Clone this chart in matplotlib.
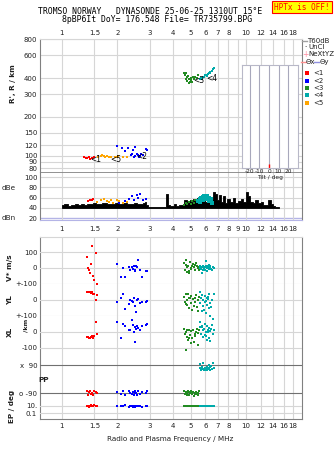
import matplotlib
matplotlib.use("Agg")
import matplotlib.pyplot as plt
from matplotlib.ticker import FixedLocator, NullLocator, FixedFormatter
from matplotlib.lines import Line2D

# ---- data ----
freq_ticks = [1, 1.5, 2, 3, 4, 5, 6, 7, 8, 9, 10, 12, 14, 16, 18]
freq_labels_mid = ["1", "1.5", "2", "3", "4", "5", "6", "7", "8", "9", "10", "12", "14", "16", "18"]
freq_labels = ["1", "1.5", "2", "3", "4", "5", "6", "7", "8", "", "10", "12", "14", "16", "18"]
height_ticks = [80, 90, 100, 120, 150, 200, 300, 400, 600, 800]

# virtual height traces
red_f = [1.32, 1.35, 1.37, 1.40, 1.42, 1.45, 1.49]
red_h = [97, 96, 96, 97, 95, 96, 98]
orange_f = [1.56, 1.62, 1.66, 1.70, 1.72, 1.76, 1.80, 1.85, 1.95, 2.00, 2.02, 2.15, 2.25]
orange_h = [98, 99, 101, 100, 98, 99, 98, 97, 97, 98, 99, 98, 98]
blue_f = [2.00, 2.12, 2.20, 2.28, 2.36, 2.40, 2.42, 2.45, 2.50, 2.50, 2.55, 2.60, 2.62, 2.65, 2.70, 2.75, 2.85, 2.90]
blue_h = [119, 114, 108, 114, 102, 103, 110, 97, 116, 100, 103, 102, 98, 100, 103, 101, 112, 110]
green_f = [4.6, 4.65, 4.7, 4.75, 4.8, 4.85, 4.9, 4.95, 5.0, 5.05, 5.1, 5.2, 5.3, 5.4, 5.5, 4.72, 4.88, 5.15]
green_h = [440, 420, 395, 405, 380, 415, 390, 372, 400, 385, 370, 395, 410, 400, 420, 435, 365, 405]
cyan_f = [5.6, 5.7, 5.8, 5.9, 6.0, 6.1, 6.2, 6.3, 6.4, 6.5, 6.6, 6.7, 5.75, 6.05, 6.35, 6.55]
cyan_h = [395, 400, 410, 405, 420, 415, 430, 440, 445, 450, 470, 480, 390, 425, 435, 455]

# amplitude profile (T60dB) and echo amplitudes
noise_f = [1.00, 1.05, 1.10, 1.15, 1.20, 1.25, 1.30, 1.35, 1.40, 1.45, 1.50, 1.55, 1.60, 1.70, 1.80,
           1.90, 2.00, 2.10, 2.20, 2.30, 2.40, 2.50, 2.60, 2.70, 2.80, 2.85, 2.90, 3.00, 3.20, 3.40,
           3.60, 3.72, 3.78, 3.90, 4.00, 4.10, 4.20, 4.40, 4.55, 4.70, 4.80, 4.90, 5.00, 5.10, 5.20,
           5.35, 5.50, 5.70, 5.90, 6.10, 6.30, 6.50, 6.70, 6.85, 7.00, 7.20, 7.40, 7.60, 7.80, 8.00,
           8.30, 8.60, 8.90, 9.20, 9.50, 9.80, 10.1, 10.4, 10.7, 11.0, 11.4, 11.8, 12.2, 12.6, 13.0,
           13.4, 13.8, 14.2, 14.6, 15.0]
noise_db = [45, 47, 44, 46, 48, 45, 47, 46, 48, 47, 50, 48, 47, 49, 47,
            48, 50, 48, 49, 47, 48, 50, 47, 48, 50, 52, 45, 41, 41, 41,
            42, 66, 45, 44, 43, 48, 44, 45, 46, 55, 50, 53, 56, 52, 57,
            54, 60, 58, 56, 52, 62, 58, 70, 66, 55, 64, 52, 62, 50, 58,
            52, 60, 50, 54, 58, 52, 70, 62, 52, 50, 55, 50, 52, 46, 45,
            55, 48, 44, 42, 42]
red_db_f = [1.38, 1.42, 1.45, 1.48]
red_db = [54, 56, 55, 57]
orange_db_f = [1.55, 1.62, 1.70, 1.75, 1.80, 1.85, 1.90, 2.00, 2.05, 2.15, 2.25]
orange_db = [52, 55, 57, 54, 52, 56, 50, 55, 53, 50, 51]
blue_db_f = [2.05, 2.2, 2.3, 2.4, 2.45, 2.55, 2.6, 2.65, 2.75, 2.85]
blue_db = [50, 53, 58, 62, 55, 64, 60, 67, 56, 58]
green_db_f = [4.6, 4.7, 4.8, 4.9, 5.0, 5.1, 5.2, 5.3, 5.4]
green_db = [45, 50, 48, 52, 47, 53, 50, 55, 52]
cyan_db_f = [5.5, 5.6, 5.7, 5.8, 5.9, 6.0, 6.1, 6.2, 6.3, 6.4, 6.5, 5.65, 5.85, 6.05, 6.25, 6.45]
cyan_db = [54, 58, 60, 61, 62, 60, 62, 58, 60, 55, 50, 52, 56, 57, 54, 58]

# lower panel: V*, YL, XL, PP, EP per echo
red2_f = [1.36, 1.38, 1.40, 1.42, 1.44, 1.45, 1.47, 1.50, 1.53, 1.55]
red2_v = [67, -2, -12, -29, 25, 137, -48, -75, 92, -102]
red2_yl = [52, 50, 48, 50, 45, 48, 40, 40, 0, 30]
red2_xl = [-30, -33, -35, -40, -30, -25, -35, -28, 65, -12]
red2_pp = [-80, -100, -85, -75, -95, -88, -105, -78, -82, -92]
red2_ep = [10, 12, 6, 10, 18, 8, 10, 14, 10, 9]

blue2_f = [1.98, 2.10, 2.15, 2.20, 2.30, 2.35, 2.40, 2.42, 2.45, 2.48, 2.50, 2.52, 2.55, 2.60, 2.65, 2.72, 2.85, 2.90]
blue2_v = [27, -55, 2, -55, 5, -10, 8, -5, 10, -15, -20, 10, 5, 50, -10, -55, -18, -18]
blue2_yl = [-12, 15, 35, -55, -25, 0, -5, -10, 10, -40, -40, -75, -2, 5, -20, -10, -15, -8]
blue2_xl = [65, -35, 50, 40, 15, 15, 75, 45, 0, 30, -60, 20, 35, 25, 10, 35, 45, 50]
blue2_pp = [-85, -95, -80, -100, -75, -90, -95, -85, -105, -80, -92, -88, -100, -78, -95, -85, -90, -80]
blue2_ep = [10, 8, 10, 14, 6, 10, 12, 5, 9, 10, 4, 10, 8, 12, 10, 6, 10, 11]

green2_f = [4.6, 4.65, 4.7, 4.75, 4.8, 4.85, 4.9, 4.95, 5.0, 5.05, 5.1, 5.15, 5.2, 5.3, 5.35, 5.4, 5.45, 5.5, 5.55, 4.72, 4.88, 5.25]
green2_v = [30, -10, 20, -25, 5, 15, -20, 40, 0, -5, 10, 25, 5, -15, 30, 10, 5, 0, -10, 50, -30, 20]
green2_yl = [20, -10, 35, -30, 0, 40, -50, 10, -20, 25, -60, 5, -35, 15, 30, -45, -70, 0, 20, -25, 10, -15]
green2_xl = [20, -10, 0, 15, -30, -50, 10, -20, -70, 5, -40, 15, -60, -25, 0, 20, -80, -5, 10, -110, -35, -15]
green2_pp = [-80, -95, -85, -100, -90, -75, -105, -88, -92, -80, -98, -85, -110, -90, -82, -95, -100, -88, -78, -92, -86, -96]
green2_ep = [10, 9, 10, 12, 10, 8, 10, 11, 10, 9, 10, 12, 10, 8, 10, 10, 11, 9, 10, 10, 12, 10]

cyan2_f = [5.6, 5.65, 5.7, 5.75, 5.8, 5.85, 5.9, 5.95, 6.0, 6.05, 6.1, 6.15, 6.2, 6.25, 6.3, 6.35, 6.4, 6.5, 6.6, 6.7, 5.78, 6.02, 6.22, 6.45]
cyan2_v = [10, 0, -5, 5, -10, 15, 0, 5, -15, 10, 0, -20, 5, 20, -5, 0, 10, -10, 5, 0, -30, 45, 10, -5]
cyan2_yl = [50, -20, 10, 30, -40, 0, -60, 25, -10, -80, 15, -30, 5, -50, 35, -100, -20, 0, -120, 40, -70, -5, 20, -45]
cyan2_xl = [60, 30, -10, 40, 10, -30, 20, 50, -20, 0, -50, 35, 15, -40, 25, 5, -55, 45, -15, 10, 30, -25, 0, 20]
cyan2_pp = [95, 70, 60, 75, 65, 105, 55, 70, 68, 62, 80, 58, 72, 66, 90, 60, 74, 64, 100, 70, 62, 55, 68, 85]
cyan2_ep = [10, 9, 10, 11, 10, 10, 8, 10, 12, 10, 9, 10, 10, 11, 10, 9, 10, 10, 8, 10, 12, 10, 9, 10]

tilt = [0]

RED, BLUE, GREEN, CYAN, ORANGE = "#ff0000", "#0000ff", "#228b22", "#00aaaa", "#ffa500"
GRID = "#d6d6d6"
FRAME = "#808080"
LAV = "#b4b4e6"

W, H = 335, 451
fig = plt.figure(figsize=(W / 100, H / 100), dpi=100)


def box(x0, y0, x1, y1):
    # pixel box -> figure fraction
    return [x0 / W, 1 - y1 / H, (x1 - x0) / W, (y1 - y0) / H]


def freq_axis(ax, labels):
    ax.set_xscale("log")
    ax.set_xlim(0.76, 20.1)
    ax.xaxis.set_major_locator(FixedLocator(freq_ticks))
    ax.xaxis.set_minor_locator(NullLocator())
    ax.xaxis.set_major_formatter(FixedFormatter(labels))


def dots(ax, f, v, c, s=3.2):
    ax.scatter(f, v, s=s, marker="s", c=c, linewidths=0, clip_on=False, zorder=3)


# ---- height panel ----
axh = fig.add_axes(box(40, 39, 302, 172))
freq_axis(axh, freq_labels)
axh.set_yscale("log")
axh.set_ylim(74.7, 803)
axh.yaxis.set_major_locator(FixedLocator(height_ticks))
axh.yaxis.set_minor_locator(NullLocator())
axh.yaxis.set_major_formatter(FixedFormatter([str(t) for t in height_ticks]))
axh.grid(True, color=GRID, lw=0.8)
axh.set_axisbelow(True)
axh.xaxis.tick_top()
axh.tick_params(length=0, labelsize=5, pad=2, colors="#202020")
for s in ["left", "right"]:
    axh.spines[s].set_color(FRAME)
axh.spines["top"].set_color(GRID)
axh.spines["bottom"].set_color(FRAME)
axh.spines["bottom"].set_linewidth(0.6)

dots(axh, red_f, red_h, RED)
dots(axh, orange_f, orange_h, ORANGE)
dots(axh, blue_f, blue_h, BLUE)
dots(axh, green_f, green_h, GREEN)
dots(axh, cyan_f, cyan_h, CYAN)
for txt, fx, hy in [("<1", 1.42, 93), ("<5", 1.84, 93), ("<2", 2.52, 99), ("<3", 5.15, 385), ("<4", 6.1, 395)]:
    axh.text(fx, hy, txt, fontsize=5.5, va="center", ha="left", color="black", zorder=4)

# ---- amplitude panel ----
axd = fig.add_axes(box(40, 172, 302, 220))
freq_axis(axd, freq_labels_mid)
axd.set_ylim(16.1, 109.8)
axd.set_yticks([20, 40, 60, 80, 100])
axd.set_yticklabels(["20", "40", "60", "80", "100"])
axd.grid(True, axis="x", color=GRID, lw=0.8)
for yv in [40, 60, 80, 100]:
    axd.axhline(yv, color=GRID, lw=0.8, zorder=0)
axd.axhline(20, color=LAV, lw=1.0, zorder=0)
axd.tick_params(length=0, labelsize=5, pad=2, colors="#202020")
axd.tick_params(axis="x", pad=4, labelsize=5)
for s in ["left", "right"]:
    axd.spines[s].set_color(FRAME)
axd.spines["top"].set_color(FRAME)
axd.spines["top"].set_linewidth(0.6)
axd.spines["bottom"].set_color(LAV)
axd.fill_between(noise_f, 40, noise_db, step="mid", color="black", lw=0.6, zorder=2)
dots(axd, red_db_f, red_db, RED)
dots(axd, orange_db_f, orange_db, ORANGE)
dots(axd, blue_db_f, blue_db, BLUE)
dots(axd, green_db_f, green_db, GREEN)
dots(axd, cyan_db_f, cyan_db, CYAN, s=8)

# ---- tilt inset ----
axt = fig.add_axes(box(242, 65, 298, 168))
axt.set_facecolor("white")
axt.set_xlim(-28.4, 30.5)
axt.set_ylim(0, 1)
axt.set_xticks([-20, -10, 0, 10, 20])
axt.set_xticklabels(["-20", "-10", "0", "10", "20"])
axt.set_yticks([])
axt.grid(True, axis="x", color="#a8a8bc", lw=0.8)
axt.tick_params(length=0, labelsize=4.2, pad=1, colors="#202020")
axt.set_xlabel("Tilt / deg", fontsize=4.2, labelpad=0.5, color="#202020")
for s in axt.spines.values():
    s.set_color("#b8b8c8")
axt.vlines(tilt, 0, 0.04, color=RED, lw=1.0)

# ---- lower panel frame ----
axl = fig.add_axes(box(40, 237, 302, 419))
freq_axis(axl, freq_labels)
axl.set_ylim(0, 1)
axl.set_yticks([])
axl.grid(True, axis="x", color=GRID, lw=0.8)
axl.tick_params(length=0, labelsize=5, pad=3, colors="#202020")
for s in axl.spines.values():
    s.set_color(FRAME)
axl.spines["top"].set_color(GRID)


def sub_axis(y0, y1, lo, hi, ticks, labels, lines, line_color=GRID, log=False):
    a = fig.add_axes(box(40, y0, 302, y1))
    a.patch.set_alpha(0)
    a.set_xscale("log")
    a.set_xlim(0.76, 20.1)
    if log:
        a.set_yscale("log")
        a.yaxis.set_minor_locator(NullLocator())
    a.set_ylim(lo, hi)
    a.set_xticks([])
    a.xaxis.set_minor_locator(NullLocator())
    a.set_yticks(ticks)
    a.set_yticklabels(labels)
    a.tick_params(length=0, labelsize=5, pad=2, colors="#202020")
    for s in a.spines.values():
        s.set_visible(False)
    for yv in lines:
        a.axhline(yv, color=line_color, lw=0.8, zorder=0)
    return a


axv = sub_axis(237, 284, -100, 193.75, [100, 0, -100], ["100", "0", "+-100"], [100, 0, -100])
axy = sub_axis(284, 316, -100, 100, [0, -100], ["0", "+-100"], [0, -100])
axx = sub_axis(316, 358, -162.5, 100, [0, -100], ["0", "-100"], [0, -100])
axp = sub_axis(358, 400, -135, 135, [90, -90], ["x  90", "o -90"], [90, -90], line_color="#707070")
axe = sub_axis(400, 419, 10 ** -2.71, 10 ** 2.71, [10, 0.1], ["10.", "0.1"], [10, 0.1], log=True)

for f, v, yl, xl, pp, ep, c in [
    (red2_f, red2_v, red2_yl, red2_xl, red2_pp, red2_ep, RED),
    (blue2_f, blue2_v, blue2_yl, blue2_xl, blue2_pp, blue2_ep, BLUE),
    (green2_f, green2_v, green2_yl, green2_xl, green2_pp, green2_ep, GREEN),
    (cyan2_f, cyan2_v, cyan2_yl, cyan2_xl, cyan2_pp, cyan2_ep, CYAN),
]:
    dots(axv, f, v, c)
    dots(axy, f, yl, c)
    dots(axx, f, xl, c)
    dots(axp, f, pp, c)
    dots(axe, f, ep, c)

# ---- texts ----
def px_text(x, y, s, **kw):
    fig.text(x / W, 1 - y / H, s, **kw)


mono = "DejaVu Sans Mono"
px_text(150, 12, "TROMSO NORWAY   DYNASONDE 25-06-25 1310UT 15\u00b0E", fontsize=5.9, family=mono,
        ha="center", va="center")
px_text(157, 20, "8pBP6It DoY= 176.548 File= TR735799.BPG", fontsize=5.9, family=mono,
        ha="center", va="center")
px_text(302, 7, "HPTx is OFF!", fontsize=5.6, family=mono, color=RED, ha="center", va="center",
        bbox=dict(boxstyle="square,pad=0.25", fc="#ffff00", ec=RED, lw=0.8))

bold = dict(fontsize=5.2, fontweight="bold", color="#202020", ha="center", va="center")
px_text(13, 84, "R', R / km", rotation=90, **bold)
px_text(2, 188, "dBe", fontsize=5.2, ha="left", va="center", color="#202020")
px_text(2, 218, "dBn", fontsize=5.2, ha="left", va="center", color="#202020")
px_text(10, 268, "V* m/s", rotation=90, **bold)
px_text(10, 300, "YL", rotation=90, **bold)
px_text(26, 325, "/km", rotation=90, fontsize=4.6, fontweight="bold", color="#202020",
        ha="center", va="center")
px_text(10, 332, "XL", rotation=90, **bold)
px_text(44, 380, "PP", fontsize=5.2, fontweight="bold", color="#202020", ha="center", va="center")
px_text(12, 406, "EP / deg", rotation=90, **bold)
px_text(170, 439, "Radio and Plasma Frequency / MHz", fontsize=5.2, ha="center", va="center",
        color="#202020")

# ---- legend on the right ----
def seg(x0, x1, y, c, lw=1.0):
    fig.add_artist(Line2D([x0 / W, x1 / W], [1 - y / H, 1 - y / H], color=c, lw=lw))


leg = dict(fontsize=5, ha="left", va="center", color="#202020")
seg(302, 307, 40.7, "#a0a0a0")
px_text(307.5, 40.7, "T60dB", **leg)
px_text(305, 47.3, "\u00b7", fontsize=5, ha="center", va="center")
px_text(308, 47.3, "UnCl", **leg)
px_text(305, 54.3, "+", fontsize=5.5, ha="center", va="center", color="#ff8ca0")
px_text(308, 54.3, "NeXtYZ", **leg)
seg(301, 306, 61.7, "#ff9090")
px_text(306, 61.7, "\u0398x", **leg)
seg(314, 319, 61.7, "#9090e0")
px_text(319.5, 61.7, "\u0398y", **leg)
for i, (lbl, c) in enumerate([("<1", RED), ("<2", BLUE), ("<3", GREEN), ("<4", CYAN), ("<5", ORANGE)]):
    yy = 73.3 + i * 7.35
    fig.add_artist(Line2D([307 / W], [1 - yy / H], marker="s", ms=2.2, color=c, lw=0, mew=0))
    px_text(313, yy, lbl, **leg)

fig.savefig("out.png", dpi=100)
